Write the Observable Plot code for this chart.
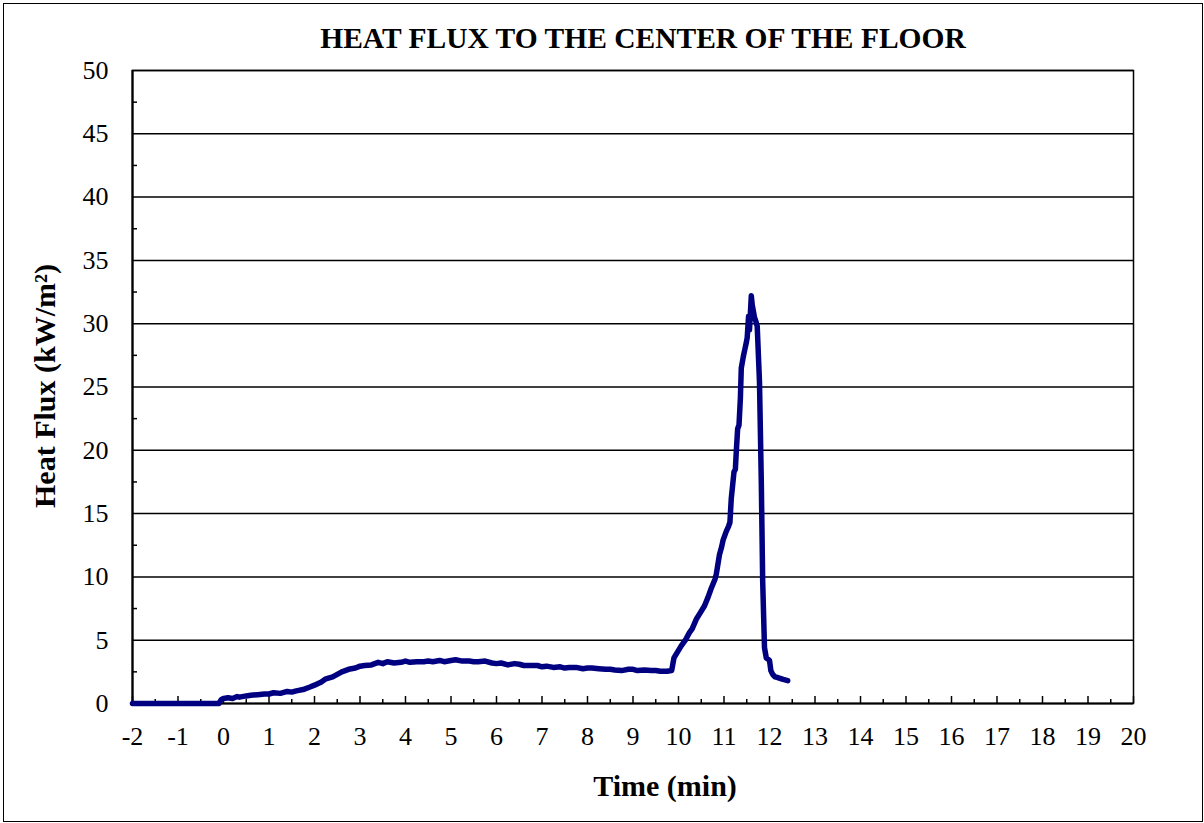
<!DOCTYPE html>
<html>
<head>
<meta charset="utf-8">
<script src="https://cdn.jsdelivr.net/npm/d3@7"></script>
<script src="https://cdn.jsdelivr.net/npm/@observablehq/plot@0.6"></script>
<style>
  html, body { margin: 0; padding: 0; background: #fff; }
  #wrap { position: relative; width: 1204px; height: 823px; overflow: hidden; }
  #border { position: absolute; left: 2.5px; top: 2.5px; width: 1200px; height: 819.5px; box-sizing: border-box; border: 1.5px solid #000; pointer-events: none; }
  #chart { position: absolute; left: 0; top: 0; }
</style>
</head>
<body>
<div id="wrap"><div id="chart"></div><div id="border"></div></div>
<script>
const title = "HEAT FLUX TO THE CENTER OF THE FLOOR";
const xTitle = "Time (min)";
const yTitle = "Heat Flux (kW/m²)";

const xTicks = [-2,-1,0,1,2,3,4,5,6,7,8,9,10,11,12,13,14,15,16,17,18,19,20];
const xMinor = [-1.5,-0.5,0.5,1.5,2.5,3.5,4.5,5.5,6.5,7.5,8.5,9.5,10.5,11.5,12.5,13.5,14.5,15.5,16.5,17.5,18.5,19.5];
const yTicks = [0,5,10,15,20,25,30,35,40,45,50];
const yMinor = [2.5,7.5,12.5,17.5,22.5,27.5,32.5,37.5,42.5,47.5];

const time = [-2,-1.5,-1,-0.5,-0.1,-0.05,0,0.1,0.2,0.3,0.35,0.5,0.6,0.75,0.9,1,1.1,1.25,1.4,1.5,1.6,1.75,1.9,2,2.15,2.25,2.4,2.5,2.6,2.75,2.9,3,3.1,3.25,3.4,3.5,3.6,3.75,3.9,4,4.1,4.25,4.4,4.5,4.6,4.75,4.85,5,5.1,5.25,5.4,5.5,5.6,5.75,5.9,6,6.1,6.25,6.4,6.5,6.6,6.75,6.9,7,7.1,7.25,7.4,7.5,7.6,7.75,7.9,8,8.1,8.25,8.4,8.5,8.6,8.75,8.9,9,9.1,9.25,9.4,9.5,9.6,9.75,9.85,9.88,9.9,9.95,10.06,10.15,10.24,10.3,10.39,10.45,10.57,10.65,10.72,10.8,10.83,10.9,10.95,10.98,11.05,11.1,11.13,11.16,11.22,11.25,11.27,11.3,11.33,11.36,11.38,11.4,11.43,11.46,11.49,11.51,11.54,11.56,11.6,11.62,11.65,11.67,11.7,11.73,11.78,11.82,11.85,11.89,11.93,11.97,12.0,12.03,12.07,12.12,12.18,12.3,12.4];
const flux = [0,0,0,0,0,0.3,0.4,0.45,0.4,0.55,0.5,0.6,0.65,0.7,0.75,0.75,0.85,0.8,0.95,0.9,1.0,1.1,1.3,1.45,1.7,1.95,2.1,2.3,2.5,2.7,2.8,2.95,3.0,3.05,3.25,3.15,3.3,3.2,3.25,3.35,3.25,3.3,3.3,3.35,3.3,3.4,3.3,3.4,3.45,3.35,3.35,3.3,3.3,3.35,3.2,3.15,3.2,3.05,3.15,3.1,3.0,3.0,3.0,2.9,2.95,2.85,2.9,2.8,2.85,2.85,2.75,2.8,2.8,2.75,2.7,2.7,2.65,2.6,2.7,2.7,2.6,2.65,2.6,2.6,2.55,2.55,2.6,3.2,3.6,3.9,4.55,5.0,5.6,5.9,6.65,7.0,7.7,8.4,9.1,9.8,10.2,11.75,12.4,12.9,13.6,14.0,14.3,16.2,18.3,18.5,19.9,21.7,22.0,24.1,26.5,26.9,27.5,28.0,28.5,28.9,30.6,29.5,32.2,31.5,30.9,30.5,30.2,29.8,25.4,17.5,9.7,4.4,3.6,3.5,3.4,2.6,2.3,2.1,2.05,1.9,1.8];

const data = time.map((t, i) => ({t, v: flux[i]}));
const font = "'Liberation Serif', 'Times New Roman', serif";

const chart = Plot.plot({
  width: 1204,
  height: 823,
  marginLeft: 132,
  marginRight: 71,
  marginTop: 70,
  marginBottom: 120,
  style: {fontFamily: font, fontSize: "26px", color: "#000", background: "#fff"},
  x: {domain: [-2, 20], axis: null},
  y: {domain: [0, 50], axis: null},
  marks: [
    Plot.ruleY(yTicks.slice(1), {stroke: "#000", strokeWidth: 1.5}),
    Plot.frame({stroke: "#000", strokeWidth: 1.5}),
    Plot.axisX({ticks: xTicks, label: null, tickSize: -7, tickPadding: 30, tickFormat: d => String(d), fontSize: 26, stroke: "#000", strokeWidth: 1.5}),
    Plot.axisX({ticks: xMinor, label: null, tickSize: -4, tickFormat: () => "", stroke: "#000", strokeWidth: 1.5}),
    Plot.axisY({ticks: yTicks, label: null, tickSize: 0, tickPadding: 24, tickFormat: d => String(d), fontSize: 26}),
    Plot.axisY({ticks: yMinor, label: null, tickSize: -5, tickFormat: () => "", stroke: "#000", strokeWidth: 1.5}),
    Plot.ruleX([-2], {stroke: "#000", strokeWidth: 2.2}),
    Plot.ruleY([0], {stroke: "#000", strokeWidth: 2.2}),
    Plot.line(data, {x: "t", y: "v", stroke: "#000080", strokeWidth: 5.5, strokeLinejoin: "round", strokeLinecap: "round"}),
    Plot.text([title], {frameAnchor: "top", dx: 10, dy: -32, lineAnchor: "middle", textAnchor: "middle", fontSize: 29.5, fontWeight: "bold", text: d => d}),
    Plot.text([xTitle], {frameAnchor: "bottom", dx: 32, dy: 83, lineAnchor: "middle", textAnchor: "middle", fontSize: 30, fontWeight: "bold", text: d => d}),
    Plot.text([yTitle], {frameAnchor: "left", dx: -87, dy: -1, rotate: -90, lineAnchor: "middle", textAnchor: "middle", fontSize: 30, fontWeight: "bold", text: d => d})
  ]
});
document.getElementById("chart").appendChild(chart);
</script>
</body>
</html>
